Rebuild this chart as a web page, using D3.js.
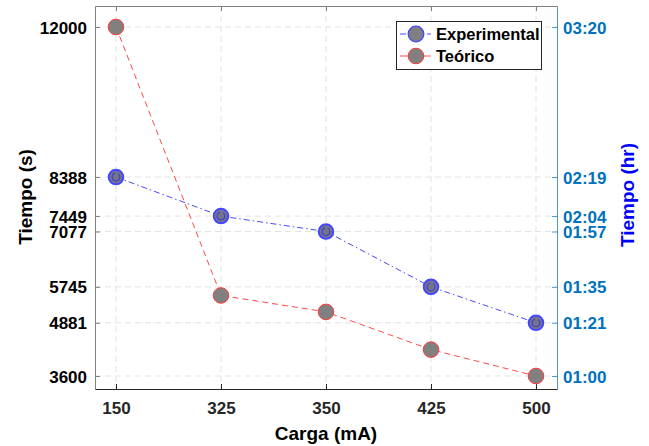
<!DOCTYPE html>
<html><head><meta charset="utf-8">
<script src="https://cdn.jsdelivr.net/npm/d3@7/dist/d3.min.js"></script>
<style>body{margin:0;background:#fff}svg{display:block}text{font-family:"Liberation Sans",Arial,sans-serif;font-weight:bold}</style>
</head><body>
<svg id="c" width="649" height="446"></svg>
<script>
const categories = ["150", "325", "350", "425", "500"];
const experimental = [8388, 7449, 7077, 5745, 4881];
const teorico = [12000, 5538, 5143, 4235, 3600];
const yTicks = [3600, 4881, 5745, 7077, 7449, 8388, 12000];
const yTickLabelsHr = ["01:00", "01:21", "01:35", "01:57", "02:04", "02:19", "03:20"];
const seriesNames = ["Experimental", "Teórico"];

const svg = d3.select("#c");
const L = 95, R = 557, T = 6, B = 389;
const x = d3.scalePoint().domain(categories).range([L, R]).padding(0.2);
const y = d3.scaleLinear().domain([3287, 12505]).range([B, T]);

// grid
const g = svg.append("g");
g.selectAll(".gx").data(categories).join("line")
  .attr("x1", d => x(d)).attr("x2", d => x(d)).attr("y1", T).attr("y2", B)
  .attr("stroke", "#e3e3e3").attr("stroke-dasharray", "6,4");
g.selectAll(".gy").data(yTicks).join("line")
  .attr("x1", L).attr("x2", R).attr("y1", d => y(d)).attr("y2", d => y(d))
  .attr("stroke", "#e3e3e3").attr("stroke-dasharray", "6,4");

// axes
const axL = d3.axisLeft(y).tickValues(yTicks).tickSizeInner(-5).tickSizeOuter(0).tickPadding(8).tickFormat(d3.format("d"));
const gl = svg.append("g").attr("transform", `translate(${L},0)`).call(axL);
gl.select(".domain").attr("stroke", "#808080");
gl.selectAll(".tick line").attr("stroke", "#808080");
gl.selectAll(".tick text").attr("fill", "#000").style("font-size", "17px").attr("dy", "0.36em");

const axR = d3.axisRight(y).tickValues(yTicks).tickSizeInner(-5).tickSizeOuter(0).tickPadding(6)
  .tickFormat((d, i) => yTickLabelsHr[i]);
const gr = svg.append("g").attr("transform", `translate(${R},0)`).call(axR);
gr.select(".domain").attr("stroke", "#4a97d4");
gr.selectAll(".tick line").attr("stroke", "#4a97d4");
gr.selectAll(".tick text").attr("fill", "#0072BD").style("font-size", "17px").attr("dy", "0.36em");

const axB = d3.axisBottom(x).tickSizeInner(-5).tickSizeOuter(0).tickPadding(13);
const gb = svg.append("g").attr("transform", `translate(0,${B})`).call(axB);
gb.select(".domain").attr("stroke", "#262626");
gb.selectAll(".tick line").attr("stroke", "#262626");
gb.selectAll(".tick text").attr("fill", "#262626").style("font-size", "17px");

const axT = d3.axisTop(x).tickSizeInner(-5).tickSizeOuter(0).tickFormat("");
const gt = svg.append("g").attr("transform", `translate(0,${T})`).call(axT);
gt.select(".domain").attr("stroke", "#808080");
gt.selectAll(".tick line").attr("stroke", "#808080");

// lines
const line = d3.line().x((d, i) => x(categories[i])).y(d => y(d));
svg.append("path").datum(teorico).attr("d", line).attr("fill", "none")
  .attr("stroke", "#ff4a4a").attr("stroke-width", 1).attr("stroke-dasharray", "6,4");
svg.append("path").datum(experimental).attr("d", line).attr("fill", "none")
  .attr("stroke", "#4a4aff").attr("stroke-width", 1).attr("stroke-dasharray", "6,3,1.5,3");

function redMarker(sel) {
  sel.append("circle").attr("r", 7.8).attr("fill", "#808080").attr("stroke", "#ff3b3b").attr("stroke-width", 1);
}
function blueMarker(sel) {
  sel.append("circle").attr("r", 7.3).attr("fill", "#74748e").attr("stroke", "#4646ff").attr("stroke-width", 2);
  sel.append("path").attr("d", d3.arc()({innerRadius: 3.4, outerRadius: 4.4, startAngle: 0.6, endAngle: 6.0}))
    .attr("fill", "#3a3ac8");
}
svg.selectAll(".mt").data(teorico).join("g")
  .attr("transform", (d, i) => `translate(${x(categories[i])},${y(d)})`).each(function () { redMarker(d3.select(this)); });
svg.selectAll(".me").data(experimental).join("g")
  .attr("transform", (d, i) => `translate(${x(categories[i])},${y(d)})`).each(function () { blueMarker(d3.select(this)); });

// axis titles
svg.append("text").attr("transform", "translate(32,197) rotate(-90)").attr("text-anchor", "middle")
  .style("font-size", "19px").attr("fill", "#000").text("Tiempo (s)");
svg.append("text").attr("transform", "translate(634,195) rotate(-90)").attr("text-anchor", "middle")
  .style("font-size", "19px").attr("fill", "#0000ff").text("Tiempo (hr)");
svg.append("text").attr("x", 326).attr("y", 440).attr("text-anchor", "middle")
  .style("font-size", "19px").attr("fill", "#000").text("Carga (mA)");

// legend
const lg = svg.append("g");
lg.append("rect").attr("x", 396.5).attr("y", 21.5).attr("width", 145).attr("height", 48)
  .attr("fill", "#fff").attr("stroke", "#262626").attr("stroke-width", 1);
const lys = [34, 56];
const lcol = ["#4a4aff", "#ff4a4a"];
const ldash = ["6,3,1.5,3", "none"];
seriesNames.forEach((n, i) => {
  lg.append("line").attr("x1", 400).attr("x2", 431).attr("y1", lys[i]).attr("y2", lys[i])
    .attr("stroke", lcol[i]).attr("stroke-dasharray", ldash[i]);
  const m = lg.append("g").attr("transform", `translate(416,${lys[i]})`);
  if (i === 0) m.append("circle").attr("r", 7.8).attr("fill", "#808080").attr("stroke", "#4646ff").attr("stroke-width", 1.3);
  else redMarker(m);
  lg.append("text").attr("x", 436).attr("y", lys[i]).attr("dy", "0.36em").style("font-size", "16.5px")
    .attr("fill", "#000").text(n);
});
</script>
</body></html>
